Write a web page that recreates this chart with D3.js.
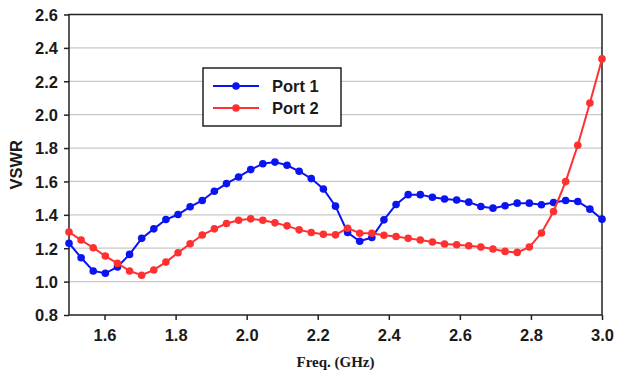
<!DOCTYPE html>
<html>
<head>
<meta charset="utf-8">
<script src="https://cdn.jsdelivr.net/npm/d3@7"></script>
<style>
  html, body { margin: 0; padding: 0; background: #fff; }
  svg { display: block; }
  .tick text { font-family: "Liberation Sans", Arial, sans-serif; font-weight: bold; font-size: 16.5px; fill: #1a1a1a; }
</style>
</head>
<body>
<svg id="chart" width="617" height="376"></svg>
<script>
// 45 samples evenly spaced from 1.5 to 3.0 GHz
const freq = d3.range(45).map(i => 1.5 + i * 1.5 / 44);

const port1 = [
  1.23, 1.143, 1.064, 1.05, 1.088, 1.163, 1.259, 1.316, 1.372, 1.402,
  1.448, 1.486, 1.541, 1.587, 1.627, 1.671, 1.706, 1.716, 1.697, 1.661,
  1.617, 1.555, 1.452, 1.294, 1.242, 1.264, 1.37, 1.462, 1.521, 1.521,
  1.505, 1.495, 1.489, 1.476, 1.45, 1.44, 1.454, 1.47, 1.47, 1.46,
  1.474, 1.486, 1.48, 1.434, 1.374
];

const port2 = [
  1.297, 1.249, 1.203, 1.153, 1.109, 1.064, 1.038, 1.07, 1.117, 1.173,
  1.227, 1.279, 1.316, 1.348, 1.368, 1.376, 1.368, 1.352, 1.334, 1.31,
  1.294, 1.284, 1.28, 1.32, 1.29, 1.29, 1.278, 1.27, 1.259, 1.249,
  1.237, 1.225, 1.221, 1.215, 1.207, 1.195, 1.181, 1.175, 1.207, 1.291,
  1.42, 1.599, 1.817, 2.07, 2.334
];

const xTicks = [1.6, 1.8, 2.0, 2.2, 2.4, 2.6, 2.8, 3.0];
const yTicks = [0.8, 1.0, 1.2, 1.4, 1.6, 1.8, 2.0, 2.2, 2.4, 2.6];

const series = [
  { name: "Port 1", values: port1, color: "#0a14f0" },
  { name: "Port 2", values: port2, color: "#ff3030" }
];

const svg = d3.select("#chart");
const margin = { top: 14.5, right: 15, bottom: 61, left: 69 };
const width = 617, height = 376;

const x = d3.scaleLinear().domain([1.5, 3.0]).range([margin.left, width - margin.right]);
const y = d3.scaleLinear().domain([0.8, 2.6]).range([height - margin.bottom, margin.top]);

// gridlines
svg.append("g")
  .selectAll("line")
  .data(yTicks.slice(1, -1))
  .join("line")
  .attr("x1", x(1.5)).attr("x2", x(3.0))
  .attr("y1", d => y(d)).attr("y2", d => y(d))
  .attr("stroke", "#c8c8c8")
  .attr("stroke-width", 1.2);

// frame
svg.append("rect")
  .attr("x", x(1.5)).attr("y", y(2.6))
  .attr("width", x(3.0) - x(1.5)).attr("height", y(0.8) - y(2.6))
  .attr("fill", "none")
  .attr("stroke", "#222")
  .attr("stroke-width", 1.5);

const xAxis = svg.append("g")
  .attr("transform", `translate(0,${y(0.8)})`)
  .call(d3.axisBottom(x).tickValues(xTicks).tickFormat(d3.format(".1f")).tickSize(5).tickPadding(9));
xAxis.select(".domain").remove();
xAxis.selectAll(".tick line").attr("stroke", "#222").attr("stroke-width", 1.5);

const yAxis = svg.append("g")
  .attr("transform", `translate(${x(1.5)},0)`)
  .call(d3.axisLeft(y).tickValues(yTicks).tickFormat(d3.format(".1f")).tickSize(5).tickPadding(6));
yAxis.select(".domain").remove();
yAxis.selectAll(".tick line").attr("stroke", "#222").attr("stroke-width", 1.5);
yAxis.selectAll(".tick text").attr("dy", "0.35em");

// axis titles
svg.append("text")
  .attr("transform", `translate(22,${y(1.7)}) rotate(-90)`)
  .attr("text-anchor", "middle")
  .attr("font-family", "Liberation Sans, Arial, sans-serif")
  .attr("font-weight", "bold")
  .attr("font-size", 16.5)
  .attr("fill", "#1a1a1a")
  .text("VSWR");

svg.append("text")
  .attr("x", x(2.25))
  .attr("y", 367)
  .attr("text-anchor", "middle")
  .attr("font-family", "Liberation Serif, Times New Roman, serif")
  .attr("font-weight", "bold")
  .attr("font-size", 15)
  .attr("fill", "#1a1a1a")
  .text("Freq. (GHz)");

// series
const line = d3.line().x((d, i) => x(freq[i])).y(d => y(d));

series.forEach(s => {
  const g = svg.append("g");
  g.append("path")
    .attr("d", line(s.values))
    .attr("fill", "none")
    .attr("stroke", s.color)
    .attr("stroke-width", 2);
  g.selectAll("circle")
    .data(s.values)
    .join("circle")
    .attr("cx", (d, i) => x(freq[i]))
    .attr("cy", d => y(d))
    .attr("r", 3.8)
    .attr("fill", s.color);
});

// legend
const legend = svg.append("g").attr("transform", "translate(203,68)");
legend.append("rect")
  .attr("width", 138).attr("height", 58)
  .attr("fill", "#fff")
  .attr("stroke", "#222")
  .attr("stroke-width", 1.5);

series.forEach((s, i) => {
  const ly = 18 + i * 22;
  legend.append("line")
    .attr("x1", 10).attr("x2", 56)
    .attr("y1", ly).attr("y2", ly)
    .attr("stroke", s.color).attr("stroke-width", 2);
  legend.append("circle")
    .attr("cx", 33).attr("cy", ly).attr("r", 3.8)
    .attr("fill", s.color);
  legend.append("text")
    .attr("x", 69).attr("y", ly)
    .attr("dy", "0.35em")
    .attr("font-family", "Liberation Sans, Arial, sans-serif")
    .attr("font-weight", "bold")
    .attr("font-size", 16.5)
    .attr("fill", "#1a1a1a")
    .text(s.name);
});
</script>
</body>
</html>
